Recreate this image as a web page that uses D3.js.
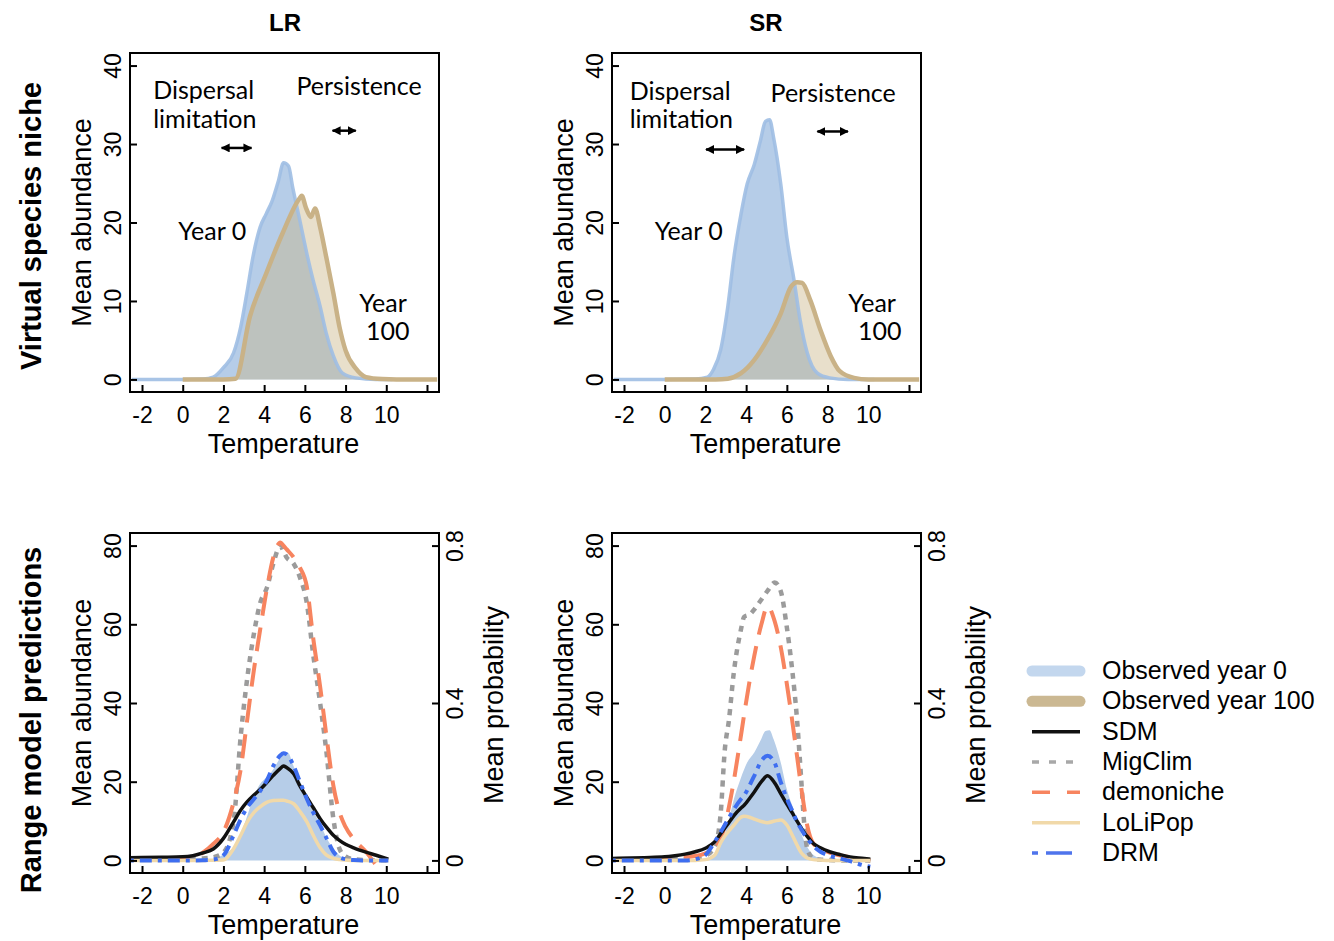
<!DOCTYPE html>
<html><head><meta charset="utf-8">
<script src="https://cdn.jsdelivr.net/npm/d3@7"></script>
<style>
body{margin:0;background:#fff}
text{font-family:"Liberation Sans",Arial,sans-serif;fill:#000}
.ann{font-family:Lato,"Open Sans",sans-serif}
</style></head>
<body><svg id="c" width="1334" height="941"></svg>
<script>
// ---------- DATA ----------
const ticksX = [-2, 0, 2, 4, 6, 8, 10, 12];
const ticksYTop = [0, 10, 20, 30, 40];
const ticksYBottom = [0, 20, 40, 60, 80];
const ticksProb = [0, 0.4, 0.8];
const columns = ["LR", "SR"];
const rows = ["Virtual species niche", "Range model predictions"];
const legendLabels = ["Observed year 0", "Observed year 100", "SDM", "MigClim", "demoniche", "LoLiPop", "DRM"];

// Observed niches (top row; year 0 also shaded in bottom row)
const temp0_LR = [-2.5, 0, 1.0, 1.5, 2.0, 2.5, 2.85, 3.15, 3.45, 3.8, 4.1, 4.4, 4.7, 4.95, 5.2, 5.4, 5.75, 6.1, 6.4, 6.75, 7.05, 7.4, 7.85, 8.5, 9.5, 10.3];
const ab0_LR   = [0, 0, 0.05, 0.3, 1.5, 3.4, 6.7, 11, 15.6, 19.4, 21.1, 22.8, 25.3, 27.6, 27.2, 24.5, 20.3, 16, 12.7, 9.3, 5.9, 3, 0.8, 0.2, 0, 0];
const temp100_LR = [0, 2.0, 2.6, 3.3, 4.1, 4.9, 5.75, 5.85, 6.05, 6.3, 6.5, 6.75, 7.05, 7.4, 7.7, 8.0, 8.5, 9.0, 9.8, 10.5, 12.5];
const ab100_LR   = [0, 0, 0.1, 8, 13.5, 18.6, 23.1, 23.4, 21.9, 20.7, 21.8, 19.4, 15.6, 11, 6.7, 3.7, 1.4, 0.3, 0.05, 0, 0];

const temp0_SR = [-2.5, 0, 1.5, 2.1, 2.4, 2.75, 3.1, 3.4, 3.75, 4.05, 4.4, 4.7, 4.95, 5.15, 5.35, 5.7, 6.0, 6.35, 6.65, 7.0, 7.5, 8.1, 9, 10.3];
const ab0_SR   = [0, 0, 0.05, 0.3, 1.3, 3.8, 9.3, 15.6, 21.1, 24.9, 27.4, 30.4, 32.9, 33.1, 30.8, 24.9, 18.1, 12.7, 7.6, 3.4, 0.8, 0.2, 0, 0];
const temp100_SR = [0, 2.5, 3.1, 3.75, 4.4, 5.05, 5.7, 6.2, 6.5, 6.75, 7.15, 7.65, 8.15, 8.6, 9.3, 10, 12.5];
const ab100_SR   = [0, 0, 0.1, 0.8, 2.5, 5.1, 8.4, 11.8, 12.4, 12.3, 10.1, 6.3, 3.0, 1.05, 0.2, 0, 0];

// Model predictions, LR
const tempPred_LR = [-2.6, -1, 0, 0.5, 1, 1.5, 2, 2.5, 2.85, 3.15, 3.5, 3.8, 4.15, 4.45, 4.8, 4.95, 5.1, 5.45, 5.75, 6.1, 6.4, 6.75, 7.05, 7.4, 7.7, 8.0, 8.4, 9.0, 9.5, 10.1];
const sdm_LR   = [0.7, 0.8, 0.9, 1.2, 1.9, 2.9, 5.6, 9.8, 12.8, 14.8, 16.6, 18.0, 19.9, 21.6, 23.4, 24.0, 23.6, 22.0, 19.0, 16.0, 13.5, 10.6, 8.5, 6.4, 5.1, 4.1, 3.2, 2.1, 1.3, 0.3];
const mig_LR   = [0.2, 0.2, 0.3, 0.4, 0.5, 0.8, 2.0, 10, 31.6, 45.5, 57.7, 65.3, 69.5, 75.4, 80, 78.5, 77, 75.4, 72, 65.3, 52.7, 40, 28, 10.6, 3, 1.0, 0.3, 0.1, 0.05, 0];
const dem_LR   = [0.3, 0.4, 0.5, 0.8, 2.0, 4.2, 7.2, 14.8, 23.2, 35, 48.5, 58.5, 69.5, 77, 80.8, 80.0, 79.1, 77, 74.5, 69.5, 56.9, 44.2, 32, 19, 12.3, 8.5, 5.4, 2.2, -1.2, -5.3];
const lol_LR   = [0, 0, 0, 0, 0, 0.05, 0.1, 3, 6.4, 9.6, 12.2, 13.6, 14.8, 15.2, 15.3, 15.3, 15.1, 14.4, 12.5, 9.8, 6.5, 3.2, 1.4, 0.5, 0.2, 0.1, 0, 0, 0, 0];
const drm_LR   = [0, 0, 0, 0, 0.05, 0.2, 1.3, 6.4, 10.5, 13.3, 15.6, 17.6, 20.5, 24, 26.7, 27.2, 27, 24, 20.1, 15.6, 12.3, 8.9, 5.8, 2.2, 0.8, 0.3, 0.1, 0, 0, 0];

// Model predictions, SR
const tempPred_SR = [-2.6, -1, 0, 0.5, 1, 1.5, 2, 2.45, 2.75, 2.95, 3.15, 3.4, 3.75, 3.9, 4.2, 4.4, 4.75, 5.05, 5.4, 5.7, 6.0, 6.25, 6.5, 6.7, 6.85, 7.0, 7.3, 7.65, 8.1, 8.6, 9.1, 9.8, 10.1];
const sdm_SR = [0.5, 0.7, 0.9, 1.2, 1.6, 2.2, 3.1, 4.7, 6.8, 8.2, 9.6, 11.4, 13.3, 14.0, 16.0, 17.4, 20.0, 21.5, 19.7, 17.0, 14.3, 12.2, 10.0, 8.3, 7.1, 6.1, 4.3, 3.2, 2.2, 1.5, 0.9, 0.5, 0.3];
const mig_SR = [0.2, 0.2, 0.3, 0.3, 0.4, 0.6, 1.2, 3.5, 12, 28, 35.5, 48, 58.8, 61.9, 62.6, 63.8, 66.3, 68.5, 70.6, 68.4, 59.2, 49, 35.8, 21, 9.5, 3.0, 0.5, 0.2, 0.1, 0, 0, 0, 0];
const dem_SR = [0.3, 0.4, 0.5, 0.6, 0.8, 1.1, 1.8, 3.0, 5.4, 8.8, 13.5, 20.4, 31.9, 37, 46.5, 52, 60, 64.6, 60.8, 54.2, 44.8, 36, 26.5, 18.7, 13.5, 8.9, 4.3, 3.0, 2.0, 1.3, 0.8, 0.2, 0];
const lol_SR = [0, 0, 0, 0, 0, 0, 0.2, 1.3, 4.5, 6.2, 7.5, 9.0, 11.0, 11.2, 10.9, 10.5, 9.9, 9.6, 10.0, 10.3, 9.0, 6.6, 3.9, 2.0, 1.2, 0.6, 0.2, 0.1, 0, 0, 0, 0, 0];
const drm_SR = [0, 0, 0, 0, 0, 0.3, 1.4, 4.7, 7.2, 9.0, 10.8, 13.0, 15.6, 16.5, 19.4, 21.5, 25.3, 26.6, 24.8, 19.9, 15.7, 12.8, 9.8, 8.0, 6.7, 5.6, 3.7, 2.2, 1.2, 0.5, -0.2, -1.3, -1.6];

// annotation positions (data units)
const annot_LR = {disp: [-1.45, 35.7], lim: [-1.45, 32.0], pers: [5.59, 36.3], y0: [-0.22, 17.8], y100a: [8.67, 8.6], y100b: [9.0, 5.0], arrowDisp: [1.91, 3.38, 29.5], arrowPers: [7.36, 8.5, 31.7]};
const annot_SR = {disp: [-1.72, 35.6], lim: [-1.72, 32.0], pers: [5.2, 35.4], y0: [-0.49, 17.8], y100a: [9.02, 8.6], y100b: [9.5, 5.0], arrowDisp: [2.03, 3.9, 29.3], arrowPers: [7.5, 9.0, 31.6]};

// ---------- STYLE ----------
const C = {
  blueFill: "#b6cde8", blueLine: "#9fbee3", tanFill: "rgba(200,178,132,0.42)", tanLine: "#c9b287",
  sdm: "#111111", mig: "#9b9b9b", dem: "#f7845f", lol: "#f1d9a9", drm: "#3e6ef0"
};
const xDomain = [-2.59, 12.59];
const font = '"Liberation Sans",Arial,sans-serif';

const svg = d3.select("#c");
const defs = svg.append("defs");
["s", "e"].forEach(k => {
  defs.append("marker").attr("id", "arr" + k).attr("viewBox", "0 0 10 10")
    .attr("refX", k === "e" ? 9 : 1).attr("refY", 5).attr("markerWidth", 3.6).attr("markerHeight", 3.6)
    .attr("markerUnits", "strokeWidth").attr("orient", "auto")
    .append("path").attr("d", k === "e" ? "M0,0 L10,5 L0,10 Z" : "M10,0 L0,5 L10,10 Z").attr("fill", "#000");
});

function zip(xs, ys) { return xs.map((v, i) => [v, ys[i]]); }

function panel(box, yDomain, yTicks, id, opts) {
  const x = d3.scaleLinear().domain(xDomain).range([box.x0, box.x1]);
  const y = d3.scaleLinear().domain(yDomain).range([box.y1, box.y0]);
  const g = svg.append("g");
  defs.append("clipPath").attr("id", "clip" + id).append("rect")
    .attr("x", box.x0).attr("y", box.y0).attr("width", box.x1 - box.x0).attr("height", box.y1 - box.y0);
  const plot = g.append("g").attr("clip-path", `url(#clip${id})`);
  const line = d3.line().x(d => x(d[0])).y(d => y(d[1])).curve(d3.curveMonotoneX);
  const area = d3.area().x(d => x(d[0])).y0(y(0)).y1(d => y(d[1])).curve(d3.curveMonotoneX);

  // axes
  const ax = g.append("g").attr("transform", `translate(0,${box.y1})`)
    .call(d3.axisBottom(x).tickValues(ticksX).tickSize(-7).tickFormat(d => d === 12 ? "" : String(d)));
  ax.select(".domain").remove();
  ax.selectAll("line").attr("stroke-width", 2);
  ax.selectAll("text").attr("y", 31).attr("dy", null).style("font-size", "23px").attr("font-family", font).attr("fill", "#000");

  const ay = g.append("g").attr("transform", `translate(${box.x0},0)`)
    .call(d3.axisLeft(y).tickValues(yTicks).tickSize(-7).tickFormat(d => String(d)));
  ay.select(".domain").remove();
  ay.selectAll("line").attr("stroke-width", 2);
  ay.selectAll("text").attr("x", null).attr("dy", null).attr("text-anchor", "middle")
    .attr("transform", "translate(-9,0) rotate(-90)").style("font-size", "23px").attr("font-family", font).attr("fill", "#000");

  g.append("text").attr("transform", `translate(${box.x0 - 39},${(box.y0 + box.y1) / 2}) rotate(-90)`)
    .attr("text-anchor", "middle").style("font-size", "27px").text("Mean abundance");
  g.append("text").attr("x", (box.x0 + box.x1) / 2 - 1).attr("y", box.y1 + 61)
    .attr("text-anchor", "middle").style("font-size", "27px").text("Temperature");

  if (opts.prob) {
    const yp = d3.scaleLinear().domain([yDomain[0] / 100, yDomain[1] / 100]).range([box.y1, box.y0]);
    const ar = g.append("g").attr("transform", `translate(${box.x1},0)`)
      .call(d3.axisRight(yp).tickValues(ticksProb).tickSize(-7).tickFormat(d => String(d)));
    ar.select(".domain").remove();
    ar.selectAll("line").attr("stroke-width", 2);
    ar.selectAll("text").attr("x", null).attr("dy", null).attr("text-anchor", "middle")
      .attr("transform", "translate(24,0) rotate(-90)").style("font-size", "23px").attr("font-family", font).attr("fill", "#000");
    g.append("text").attr("transform", `translate(${box.x1 + 64},${(box.y0 + box.y1) / 2 + 2}) rotate(-90)`)
      .attr("text-anchor", "middle").style("font-size", "27px").text("Mean probability");
  }
  g.append("rect").attr("x", box.x0).attr("y", box.y0).attr("width", box.x1 - box.x0).attr("height", box.y1 - box.y0)
    .attr("fill", "none").attr("stroke", "#000").attr("stroke-width", 2);
  return {x, y, plot, line, area, g};
}

function arrow(p, a) {
  p.g.append("line").attr("x1", p.x(a[0])).attr("x2", p.x(a[1])).attr("y1", p.y(a[2])).attr("y2", p.y(a[2]))
    .attr("stroke", "#000").attr("stroke-width", 2.5).attr("marker-start", "url(#arrs)").attr("marker-end", "url(#arre)");
}
function ann(p, pos, txt) {
  p.g.append("text").attr("class", "ann").attr("x", p.x(pos[0])).attr("y", p.y(pos[1]))
    .style("font-size", "25px").style("font-family", 'Lato,"Open Sans",sans-serif').text(txt);
}

function topPanel(box, id, t0, a0, t1, a1, an) {
  const p = panel(box, [-1.6, 41.6], ticksYTop, id, {});
  const d0 = zip(t0, a0), d1 = zip(t1, a1);
  p.plot.append("path").attr("d", p.area(d0)).attr("fill", C.blueFill);
  p.plot.append("path").attr("d", p.area(d1)).attr("fill", C.tanFill);
  p.plot.append("path").attr("d", p.line(d0)).attr("fill", "none").attr("stroke", C.blueLine).attr("stroke-width", 3.5).attr("opacity", 0.9);
  p.plot.append("path").attr("d", p.line(d1)).attr("fill", "none").attr("stroke", C.tanLine).attr("stroke-width", 4.5);
  ann(p, an.disp, "Dispersal"); ann(p, an.lim, "limitation"); ann(p, an.pers, "Persistence");
  ann(p, an.y0, "Year 0"); ann(p, an.y100a, "Year"); ann(p, an.y100b, "100");
  arrow(p, an.arrowDisp); arrow(p, an.arrowPers);
}

function bottomPanel(box, id, t0, a0, tp, s) {
  const p = panel(box, [-3.2, 83.2], ticksYBottom, id, {prob: true});
  p.plot.append("path").attr("d", p.area(zip(t0, a0))).attr("fill", C.blueFill);
  const series = [
    [s.mig, C.mig, 4.5, "6,6"],
    [s.dem, C.dem, 4, "24,12"],
    [s.sdm, C.sdm, 3.5, null],
    [s.lol, C.lol, 3.5, null],
    [s.drm, C.drm, 4, "4,6,12,6"]
  ];
  series.forEach(([vals, col, w, dash]) => {
    p.plot.append("path").attr("d", p.line(zip(tp, vals))).attr("fill", "none")
      .attr("stroke", col).attr("stroke-width", w).attr("stroke-dasharray", dash);
  });
}

topPanel({x0: 130, x1: 439, y0: 53, y1: 392}, "tl", temp0_LR, ab0_LR, temp100_LR, ab100_LR, annot_LR);
topPanel({x0: 612, x1: 921, y0: 53, y1: 392}, "tr", temp0_SR, ab0_SR, temp100_SR, ab100_SR, annot_SR);
bottomPanel({x0: 130, x1: 439, y0: 533, y1: 873}, "bl", temp0_LR, ab0_LR, tempPred_LR, {sdm: sdm_LR, mig: mig_LR, dem: dem_LR, lol: lol_LR, drm: drm_LR});
bottomPanel({x0: 612, x1: 921, y0: 533, y1: 873}, "br", temp0_SR, ab0_SR, tempPred_SR, {sdm: sdm_SR, mig: mig_SR, dem: dem_SR, lol: lol_SR, drm: drm_SR});

// column titles
[[columns[0], 285], [columns[1], 766]].forEach(([t, cx]) => {
  svg.append("text").attr("x", cx).attr("y", 31).attr("text-anchor", "middle")
    .style("font-size", "24px").style("font-weight", "bold").text(t);
});
// row titles
[[rows[0], 226], [rows[1], 720]].forEach(([t, cy]) => {
  svg.append("text").attr("transform", `translate(41,${cy}) rotate(-90)`).attr("text-anchor", "middle")
    .style("font-size", "29px").style("font-weight", "bold").text(t);
});

// legend
const legStyles = [
  {c: "#c3d7ee", w: 11, dash: null, cap: "round"},
  {c: "#cbb892", w: 11, dash: null, cap: "round"},
  {c: C.sdm, w: 3.5, dash: null},
  {c: "#a8a8a8", w: 3.5, dash: "7,10"},
  {c: C.dem, w: 3.5, dash: "18,17"},
  {c: C.lol, w: 3.5, dash: null},
  {c: "#4f74ec", w: 3.5, dash: "6,8,26,8"}
];
const leg = svg.append("g");
const ly = d3.scalePoint().domain(legendLabels).range([671, 853]);
legendLabels.forEach((lab, i) => {
  const st = legStyles[i];
  leg.append("line").attr("x1", 1032).attr("x2", 1080).attr("y1", ly(lab)).attr("y2", ly(lab))
    .attr("stroke", st.c).attr("stroke-width", st.w).attr("stroke-dasharray", st.dash)
    .attr("stroke-linecap", st.cap || "butt");
  leg.append("text").attr("x", 1102).attr("y", ly(lab) + 8).style("font-size", "25px").text(lab);
});
</script></body></html>
